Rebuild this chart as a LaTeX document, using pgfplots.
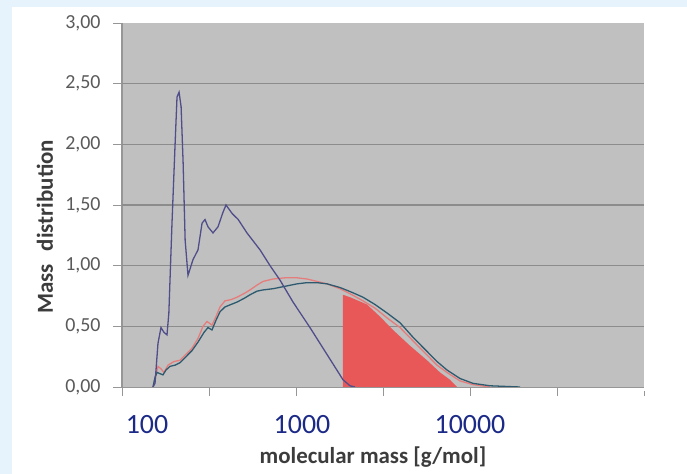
\documentclass[border=0pt]{standalone}
\usepackage{fontspec}
\setmainfont{Carlito}
\usepackage{pgfplots}
\pgfplotsset{compat=1.18}
\definecolor{bgblue}{RGB}{230,243,252}
\definecolor{plotgray}{RGB}{192,192,192}
\definecolor{gridgray}{RGB}{140,140,140}
\definecolor{axisgray}{RGB}{150,150,150}
\definecolor{ticklab}{RGB}{90,90,90}
\definecolor{titlegray}{RGB}{60,60,60}
\definecolor{navyline}{RGB}{80,78,138}
\definecolor{redline}{RGB}{230,125,125}
\definecolor{tealline}{RGB}{45,90,110}
\definecolor{redfill}{RGB}{232,88,88}
\definecolor{bluelab}{RGB}{28,42,135}

\pgfplotstableread{
M y
150.7 0.00
154.8 0.03
161.0 0.36
167.5 0.49
174.3 0.45
181.4 0.43
185.9 0.61
193.8 1.35
201.6 1.98
207.1 2.39
212.8 2.43
218.6 2.31
224.5 1.85
230.6 1.21
239.5 0.92
255.9 1.05
273.4 1.13
288.4 1.35
300.0 1.38
312.1 1.32
333.4 1.27
356.2 1.32
380.6 1.44
396.0 1.50
429.4 1.43
465.6 1.38
522.5 1.27
621.4 1.13
709.4 1.00
809.7 0.88
961.3 0.70
1203 0.49
1567 0.23
1862 0.06
2043 0.01
2183 0.00
}\navydata

\pgfplotstableread{
M y
150.7 0.00
154.8 0.08
158.9 0.12
165.3 0.11
172.0 0.10
179.0 0.14
188.7 0.17
201.6 0.18
215.4 0.20
233.3 0.25
252.5 0.30
273.4 0.37
296.0 0.45
312.1 0.49
329.0 0.47
346.9 0.55
365.8 0.62
390.8 0.66
423.0 0.68
458.2 0.70
502.5 0.73
544.1 0.76
597.0 0.79
646.3 0.80
737.7 0.81
864.8 0.83
1013 0.85
1157 0.86
1320 0.86
1508 0.85
1790 0.82
2098 0.78
2427 0.74
2844 0.68
3334 0.61
3960 0.53
4704 0.41
5513 0.31
6462 0.21
7375 0.14
8762 0.07
10404 0.03
13026 0.01
19384 0.00
}\tealdata

\pgfplotstableread{
M y
150.7 0.00
156.8 0.10
161.0 0.17
167.5 0.15
174.3 0.12
183.8 0.18
199.0 0.21
215.4 0.22
233.3 0.27
252.5 0.32
273.4 0.40
292.1 0.50
308.0 0.54
329.0 0.51
346.9 0.58
365.8 0.66
390.8 0.71
423.0 0.72
458.2 0.74
502.5 0.77
544.1 0.80
597.0 0.84
646.3 0.87
737.7 0.89
864.8 0.90
1013 0.90
1157 0.89
1320 0.87
1508 0.85
1790 0.81
2098 0.76
2427 0.71
2844 0.65
3334 0.57
3960 0.49
4704 0.38
5513 0.28
6462 0.18
7375 0.12
8762 0.05
10404 0.02
13026 0.00
}\reddata

\pgfplotstableread{
M y
1862 0.00
1862 0.76
2043 0.74
2559 0.68
3039 0.58
3610 0.47
4521 0.34
5661 0.22
6724 0.12
7674 0.06
8422 0.00
}\filldata

\begin{document}
\begin{tikzpicture}
\fill[bgblue] (0bp,0bp) rectangle (687bp,474bp);
\fill[white] (12bp,0bp) rectangle (687bp,467bp);
\useasboundingbox (0bp,0bp) rectangle (687bp,474bp);
\begin{axis}[
  at={(122bp,87bp)}, anchor=south west,
  scale only axis, width=522bp, height=364bp,
  xmode=log, xmin=100, xmax=100000, ymin=0, ymax=3,
  axis background/.style={fill=plotgray},
  axis x line*=bottom, axis y line*=left,
  x axis line style={draw=axisgray, line width=1pt, -},
  y axis line style={draw=axisgray, line width=1.5pt, -},
  xtick={100,316.23,1000,3162.3,10000,31623,100000},
  xticklabels={},
  xminorticks=false, yminorticks=false,
  ytick={0,0.5,1,1.5,2,2.5,3},
  yticklabels={{0,00},{0,50},{1,00},{1,50},{2,00},{2,50},{3,00}},
  tick align=outside,
  major tick length=9bp,
  x tick style={draw=axisgray, line width=0.8pt, shorten >=4bp},
  y tick style={draw=axisgray, line width=0.8pt},
  extra y ticks={0.5,1,1.5,2,2.5},
  extra y tick labels={},
  extra y tick style={grid=major, major tick length=0pt},
  major grid style={draw=gridgray, line width=1.1pt},
  y tick label style={font=\fontsize{20}{24}\selectfont, text=ticklab, anchor=east, xshift=-9bp},
]
\addplot[fill=redfill, draw=none] table[x=M, y=y] {\filldata} \closedcycle;
\addplot[redline, line width=1.3pt] table[x=M, y=y] {\reddata};
\addplot[tealline, line width=1.3pt] table[x=M, y=y] {\tealdata};
\addplot[navyline, line width=1.3pt] table[x=M, y=y] {\navydata};
\end{axis}
\node[rotate=90, text=titlegray, font=\fontsize{23}{23}\selectfont\bfseries] at (45bp,247bp) {Mass\hspace{0.35em} distribution};
\node[text=titlegray, font=\fontsize{23}{23}\selectfont\bfseries] at (373bp,17bp) {molecular mass [g/mol]};
\node[text=bluelab, font=\fontsize{28}{28}\selectfont] at (147bp,49bp) {100};
\node[text=bluelab, font=\fontsize{28}{28}\selectfont] at (302bp,49bp) {1000};
\node[text=bluelab, font=\fontsize{28}{28}\selectfont] at (470bp,49bp) {10000};
\end{tikzpicture}
\end{document}
